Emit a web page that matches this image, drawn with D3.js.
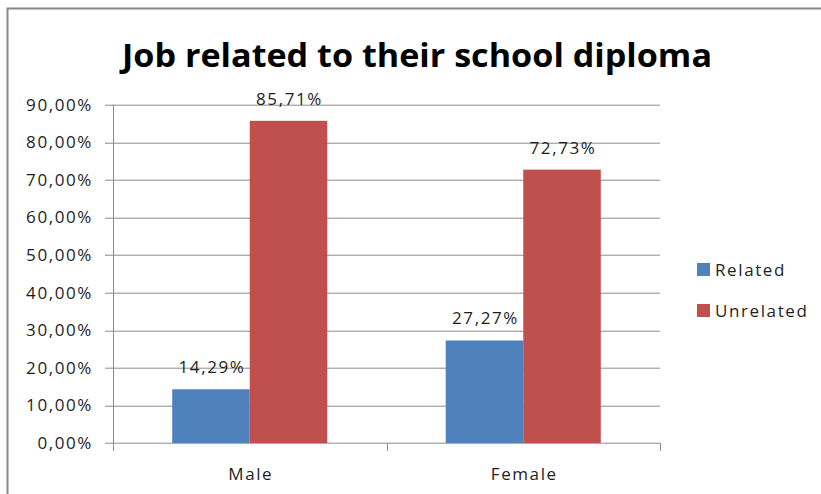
<!DOCTYPE html>
<html>
<head>
<meta charset="utf-8">
<script src="https://cdn.jsdelivr.net/npm/d3@7"></script>
<style>
  body { margin: 0; background: #fff; }
  text { font-family: "Open Sans", "Noto Sans", sans-serif; fill: #1e1e1e; }
  .lab { font-size: 17px; letter-spacing: 1.6px; }
</style>
</head>
<body>
<div id="chart"></div>
<script>
// chart data
var categories = ["Male", "Female"];
var seriesNames = ["Related", "Unrelated"];
var related = [14.29, 27.27];
var unrelated = [85.71, 72.73];
var yTicks = [0, 10, 20, 30, 40, 50, 60, 70, 80, 90];

var colors = { Related: "#4F81BD", Unrelated: "#C0504D" };

var svgWidth = 821;
var svgHeight = 494;

var margin = { top: 104.7, left: 113, right: 161, bottom: 51 };
var width = svgWidth - margin.left - margin.right;
var height = svgHeight - margin.top - margin.bottom;

var fmt = function(v) { return d3.format(".2f")(v).replace(".", ",") + "%"; };

var svg = d3.select("#chart")
  .append("svg")
  .attr("width", svgWidth)
  .attr("height", svgHeight);

// outer frame (only top and left edges show)
svg.append("path")
  .attr("d", "M7.5,494 V8.5 H821")
  .attr("fill", "none")
  .attr("stroke", "#888")
  .attr("stroke-width", 2);

// title
svg.append("text")
  .attr("x", 417)
  .attr("y", 67)
  .attr("text-anchor", "middle")
  .style("font-size", "33px")
  .style("font-weight", "bold")
  .attr("textLength", 590)
  .attr("lengthAdjust", "spacingAndGlyphs")
  .style("fill", "#000")
  .text("Job related to their school diploma");

var chart = svg.append("g")
  .attr("transform", `translate(${margin.left}, ${margin.top})`);

var x0 = d3.scaleBand()
  .domain(categories)
  .range([0, width])
  .paddingInner(0.433)
  .paddingOuter(0.2165);

var x1 = d3.scaleBand()
  .domain(seriesNames)
  .range([0, x0.bandwidth()]);

var y = d3.scaleLinear()
  .domain([0, 90])
  .range([height, 0]);

// gridlines
chart.append("g")
  .selectAll("line")
  .data(yTicks)
  .enter()
  .append("line")
  .attr("x1", -8)
  .attr("x2", width)
  .attr("y1", d => Math.round(y(d)) + 0.5)
  .attr("y2", d => Math.round(y(d)) + 0.5)
  .attr("stroke", "#8c8c8c")
  .attr("stroke-width", 1);

// y tick labels
chart.append("g")
  .selectAll("text")
  .data(yTicks)
  .enter()
  .append("text")
  .attr("class", "lab")
  .attr("x", -20)
  .attr("y", d => y(d))
  .attr("dy", "0.35em")
  .attr("text-anchor", "end")
  .text(fmt);

// y axis line
chart.append("line")
  .attr("x1", 0.5).attr("x2", 0.5)
  .attr("y1", 0).attr("y2", height + 8)
  .attr("stroke", "#8c8c8c");

// category ticks
var catTicks = [0, width / 2, width];
chart.append("g")
  .selectAll("line")
  .data(catTicks)
  .enter()
  .append("line")
  .attr("x1", d => Math.round(d) + 0.5)
  .attr("x2", d => Math.round(d) + 0.5)
  .attr("y1", height)
  .attr("y2", height + 8)
  .attr("stroke", "#8c8c8c");

// bars
var rows = categories.map(function(c, i) {
  return { cat: c, values: [
    { name: "Related", value: related[i] },
    { name: "Unrelated", value: unrelated[i] }
  ] };
});

var groups = chart.selectAll(".grp")
  .data(rows)
  .enter()
  .append("g")
  .attr("transform", d => `translate(${x0(d.cat)}, 0)`);

groups.selectAll("rect")
  .data(d => d.values)
  .enter()
  .append("rect")
  .attr("x", d => x1(d.name))
  .attr("y", d => y(d.value))
  .attr("width", x1.bandwidth())
  .attr("height", d => height - y(d.value))
  .attr("fill", d => colors[d.name]);

groups.selectAll(".val")
  .data(d => d.values)
  .enter()
  .append("text")
  .attr("class", "lab")
  .attr("x", d => x1(d.name) + x1.bandwidth() / 2 + 1)
  .attr("y", d => y(d.value) - 16)
  .attr("text-anchor", "middle")
  .text(d => fmt(d.value));

// category labels
chart.append("g")
  .selectAll("text")
  .data(categories)
  .enter()
  .append("text")
  .attr("class", "lab")
  .attr("x", d => x0(d) + x0.bandwidth() / 2 + 1)
  .attr("y", height + 37)
  .attr("text-anchor", "middle")
  .text(d => d);

// legend
var legend = svg.append("g")
  .attr("transform", "translate(697, 263)");

var items = legend.selectAll("g")
  .data(seriesNames)
  .enter()
  .append("g")
  .attr("transform", (d, i) => `translate(0, ${i * 41})`);

items.append("rect")
  .attr("width", 13)
  .attr("height", 13)
  .attr("fill", d => colors[d]);

items.append("text")
  .attr("class", "lab")
  .attr("x", 18)
  .attr("y", 7)
  .attr("dy", "0.35em")
  .text(d => d);
</script>
</body>
</html>
